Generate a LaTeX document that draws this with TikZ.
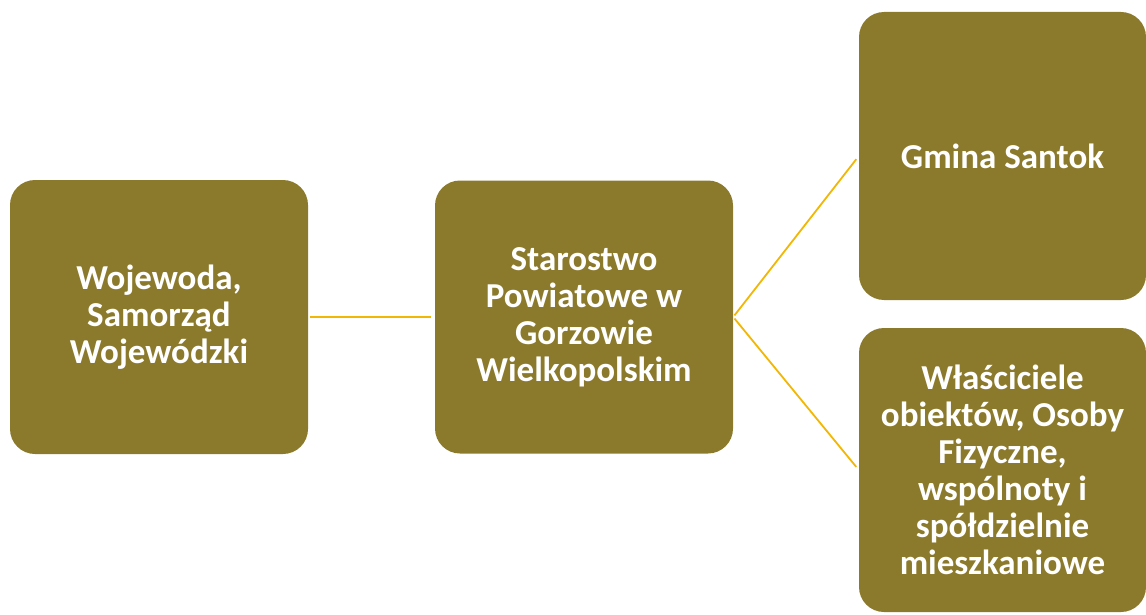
\documentclass[tikz,border=0pt]{standalone}
\usepackage{fontspec}
\setmainfont{Carlito}
\usepackage{tikz}
\definecolor{olivebox}{HTML}{8C7A2C}
\definecolor{linkline}{HTML}{F2B705}

\begin{document}
\begin{tikzpicture}
    [
    x = 1pt, y = 1pt,
    every node/.style       = {font=\bfseries\fontsize{35}{37}\selectfont},
    unit/.style             = {rectangle, rounded corners=25pt, fill=olivebox,
                               text=white, align=center, inner sep=0pt},
    link/.style             = {draw=linkline, line width=1.8pt, shorten <=2pt, shorten >=4pt}
    ]
    \useasboundingbox (0,0) rectangle (1146,-615);

    \node [unit, minimum width=298pt, minimum height=274pt] (wojewoda) at (159,-317)
        {Wojewoda,\\ Samorząd\\ Wojewódzki};
    \node [unit, minimum width=298pt, minimum height=273pt] (starostwo) at (584,-317)
        {Starostwo\\ Powiatowe w\\ Gorzowie\\ Wielkopolskim};
    \node [unit, minimum width=287pt, minimum height=288pt] (gmina) at (1002.5,-156)
        {Gmina Santok};
    \node [unit, minimum width=287pt, minimum height=284pt] (wlasciciele) at (1002.5,-470)
        {Właściciele\\ obiektów, Osoby\\ Fizyczne,\\ wspólnoty i\\ spółdzielnie\\ mieszkaniowe};

    \draw [link] (wojewoda.east) -- (starostwo.west);
    \draw [link] (starostwo.east) -- (gmina.west);
    \draw [link] (starostwo.east) -- (wlasciciele.west);
\end{tikzpicture}
\end{document}
